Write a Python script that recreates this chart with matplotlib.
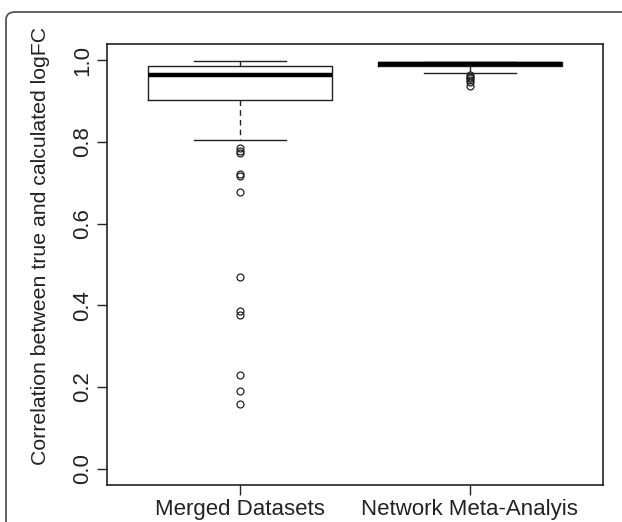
import matplotlib
matplotlib.use("Agg")
import matplotlib.pyplot as plt
from matplotlib.patches import FancyBboxPatch

plt.rcParams['font.family'] = ['Liberation Sans', 'DejaVu Sans']

# summary values
groups = ['Merged Datasets', 'Network Meta-Analyis']
q1 = [0.904, 0.987]
median = [0.963, 0.991]
q3 = [0.985, 0.995]
whisker_low = [0.805, 0.970]
whisker_high = [0.9975, 0.997]
outliers_merged = [0.785, 0.779, 0.773, 0.722, 0.716, 0.677, 0.469,
                   0.385, 0.376, 0.230, 0.189, 0.159]
outliers_network = [0.965, 0.960, 0.956, 0.951, 0.946, 0.937]
fliers = [outliers_merged, outliers_network]

stats = []
for i, name in enumerate(groups):
    stats.append({'label': name, 'q1': q1[i], 'med': median[i], 'q3': q3[i],
                  'whislo': whisker_low[i], 'whishi': whisker_high[i],
                  'fliers': fliers[i]})

fig = plt.figure(figsize=(6.22, 5.22), dpi=100)
ax = fig.add_axes([107 / 622, 1 - 485 / 522, 496 / 622, 441 / 522])

ink = '#222222'
ax.bxp(stats, positions=[1, 2], widths=0.8, showfliers=True,
       boxprops=dict(color=ink, linewidth=1.0),
       medianprops=dict(color='black', linewidth=3.2, solid_capstyle='butt'),
       whiskerprops=dict(color=ink, linewidth=1.0, linestyle=(0, (4, 3))),
       capprops=dict(color=ink, linewidth=1.0),
       capwidths=0.4,
       flierprops=dict(marker='o', markerfacecolor='none', markeredgecolor=ink,
                       markersize=5, markeredgewidth=0.9))

ax.set_xlim(0.42, 2.58)
ax.set_ylim(-0.04, 1.04)
ax.set_yticks([0.0, 0.2, 0.4, 0.6, 0.8, 1.0])
ax.set_yticklabels(['0.0', '0.2', '0.4', '0.6', '0.8', '1.0'])
ax.set_xticks([1, 2])
ax.set_xticklabels(groups)
ax.tick_params(axis='both', labelsize=16, length=7.2, width=1.0, color=ink,
               labelcolor=ink)
ax.tick_params(axis='y', pad=3)
ax.tick_params(axis='x', pad=3)
for lab in ax.get_yticklabels():
    lab.set_rotation(90)
    lab.set_va('center')

for sp in ax.spines.values():
    sp.set_color(ink)
    sp.set_linewidth(1.2)

ax.set_ylabel('Correlation between true and calculated logFC', fontsize=15.3,
              color=ink)
ax.yaxis.set_label_coords(-0.115, 0.542)

# outer rounded frame of the figure panel
frame = FancyBboxPatch((6 / 622, -0.1), 1.2, 1 - 12 / 522 + 0.1,
                       boxstyle='round,pad=0,rounding_size=0.015',
                       transform=fig.transFigure, fill=False,
                       edgecolor='#555555', linewidth=1.3, clip_on=False)
fig.patches.append(frame)

fig.savefig('out.png', dpi=100)
